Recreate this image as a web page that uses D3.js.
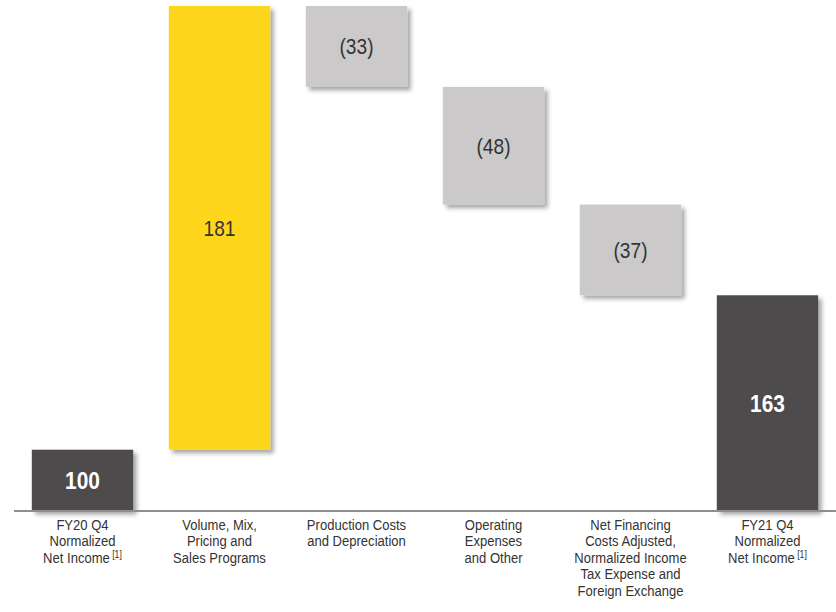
<!DOCTYPE html>
<html>
<head>
<meta charset="utf-8">
<script src="https://cdn.jsdelivr.net/npm/d3@7"></script>
<style>
    body { margin: 0; background: #fff; }
    svg { display: block; font-family: "Liberation Sans", Arial, sans-serif; }
</style>
</head>
<body>
<svg id="chart" width="836" height="612"></svg>
<script>
// Waterfall: FY20 Q4 -> FY21 Q4 normalized net income
const categories = [
    ["FY20 Q4", "Normalized", "Net Income"],
    ["Volume, Mix,", "Pricing and", "Sales Programs"],
    ["Production Costs", "and Depreciation"],
    ["Operating", "Expenses", "and Other"],
    ["Net Financing", "Costs Adjusted,", "Normalized Income", "Tax Expense and", "Foreign Exchange"],
    ["FY21 Q4", "Normalized", "Net Income"]
]
const values = [100, 181, -33, -48, -37, 163]
const kinds = ["total", "up", "down", "down", "down", "total"]
const footnotes = [true, false, false, false, false, true]

const COLORS = {total: "#4e4b4c", up: "#fed61f", down: "#cbc9ca"}
// no narrow face installed, so squeeze the text horizontally
const NARROW = 0.87

let svg = d3.select("#chart"),
    steps = [],
    running = 0

values.forEach((value, i) => {
    let start, end
    if (kinds[i] === "total") { start = 0; end = value; running = value }
    else { start = running; end = running + value; running = end }
    steps.push({index: i, value: value, kind: kinds[i], lo: Math.min(start, end), hi: Math.max(start, end)})
})

let xScale = d3.scaleBand()
        .domain(d3.range(values.length))
        .range([14, 836])
        .paddingInner(0.26)
        .paddingOuter(0.13),
    yScale = d3.scaleLinear()
        .domain([75, 281])
        .range([511, 6])

// drop shadow for the bars
let filter = svg.append("defs").append("filter")
    .attr("id", "shadow")
    .attr("x", "-10%").attr("y", "-10%")
    .attr("width", "130%").attr("height", "130%")
filter.append("feDropShadow")
    .attr("dx", 3.5)
    .attr("dy", 3.5)
    .attr("stdDeviation", 2)
    .attr("flood-color", "#000")
    .attr("flood-opacity", 0.35)

svg.append("g")
    .selectAll("rect")
    .data(steps)
    .join("rect")
    .attr("x", d => xScale(d.index))
    .attr("width", xScale.bandwidth())
    .attr("y", d => yScale(d.hi))
    .attr("height", d => yScale(Math.max(d.lo, 75)) - yScale(d.hi))
    .attr("fill", d => COLORS[d.kind])
    .attr("filter", "url(#shadow)")

// baseline
svg.append("line")
    .attr("x1", 14)
    .attr("x2", 836)
    .attr("y1", yScale(75))
    .attr("y2", yScale(75))
    .attr("stroke", "#8f8d8e")
    .attr("stroke-width", 2)

// value labels
svg.append("g")
    .selectAll("text")
    .data(steps)
    .join("text")
    .attr("transform", d => `translate(${xScale(d.index) + xScale.bandwidth() / 2}, ${(yScale(d.hi) + yScale(Math.max(d.lo, 75))) / 2}) scale(${NARROW}, 1)`)
    .attr("dy", "0.36em")
    .attr("text-anchor", "middle")
    .style("font-size", d => d.kind === "total" ? "24px" : "22px")
    .style("font-weight", d => d.kind === "total" ? "bold" : "normal")
    .style("fill", d => d.kind === "total" ? "#fff" : "#333")
    .text(d => d.value < 0 ? `(${-d.value})` : d.value)

// category labels
let labels = svg.append("g")
    .selectAll("text")
    .data(categories)
    .join("text")
    .attr("transform", (d, i) => `translate(${xScale(i) + xScale.bandwidth() / 2}, 0) scale(${NARROW}, 1)`)
    .attr("text-anchor", "middle")
    .style("font-size", "15px")
    .style("fill", "#333")

labels.each(function(lines, i) {
    lines.forEach((line, j) => {
        let t = d3.select(this).append("tspan")
            .attr("x", 0)
            .attr("y", 530 + j * 16.5)
            .text(line)
        if (j === lines.length - 1 && footnotes[i]) {
            t.append("tspan")
                .attr("dy", -5)
                .style("font-size", "10px")
                .text(" [1]")
        }
    })
})
</script>
</body>
</html>
